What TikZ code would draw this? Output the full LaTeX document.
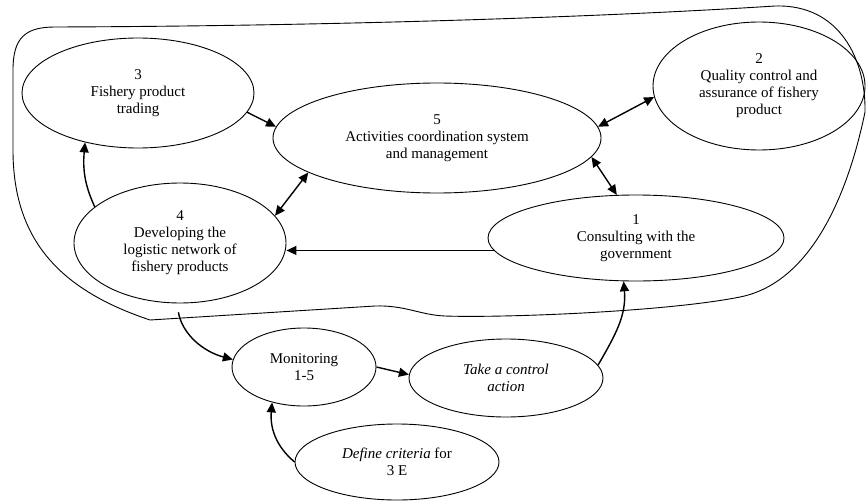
\documentclass[tikz,border=0pt]{standalone}
\usepackage{fontspec}
\setmainfont{Liberation Serif}
\usetikzlibrary{shapes.geometric,arrows.meta}
\begin{document}
\begin{tikzpicture}[x=1pt, y=-1pt,
    proc/.style = {shape=ellipse, draw, line width=0.9pt, align=center,
      inner sep=0pt, font=\fontsize{15}{17}\selectfont},
    arr/.style = {-{Triangle[length=10pt,width=9pt]}, line width=1.4pt},
    dbl/.style = {{Triangle[length=10pt,width=9pt]}-{Triangle[length=10pt,width=9pt]},
      line width=1.4pt}]
  \useasboundingbox (0,0) rectangle (866,500);
  % boundary round 1-5
  \draw[line width=0.9pt] (150,320) .. controls (60,290) and (13,240) .. (13,150)
    -- (13,70) .. controls (13,38) and (25,27) .. (55,27)
    .. controls (350,26) and (620,16) .. (775,6)
    .. controls (840,4) and (866,60) .. (865,112)
    .. controls (850,185) and (815,282) .. (740,297)
    .. controls (665,312) and (500,318) .. (445,316)
    .. controls (420,315) and (405,305) .. (375,306) -- cycle;
  \node[proc, minimum width=232, minimum height=110] (e3) at (138,93)
    {3\\Fishery product\\trading};
  \node[proc, minimum width=328, minimum height=110] (e5) at (437,138)
    {5\\Activities coordination system\\and management};
  \node[proc, minimum width=212, minimum height=128] (e2) at (759,86)
    {2\\Quality control and\\assurance of fishery\\product};
  \node[proc, minimum width=212, minimum height=120] (e4) at (180,243)
    {4\\Developing the\\logistic network of\\fishery products};
  \node[proc, minimum width=296, minimum height=86] (e1) at (636,238)
    {1\\Consulting with the\\government};
  \node[proc, minimum width=144, minimum height=78] (mon) at (304,367)
    {Monitoring\\1-5};
  \node[proc, minimum width=194, minimum height=78] (take) at (506,378)
    {\textit{Take a control}\\\textit{action}};
  \node[proc, minimum width=204, minimum height=76] (def) at (397,462)
    {\textit{Define criteria} for\\3 E};
  % links
  \draw[arr] (e3.-10) -- (e5.176);
  \draw[arr] (e4.157) to[out=115,in=-95] (e3.223);
  \draw[dbl] (e4.16) -- (e5.195);
  \draw[arr] (e1.185) -- (e1.185 -| e4.east);
  \draw[dbl] (e5.4) -- (e2.186);
  \draw[dbl] (e5.-7) -- (e1.114);
  \draw[arr, shorten <=9pt] (e4.-93) to[out=-80,in=165] (mon.174);
  \draw[arr] (mon.0) -- (take.178);
  \draw[arr] (take.8) to[out=60,in=-85] (e1.-106);
  \draw[arr] (def.180) to[out=140,in=-95] (mon.228);
\end{tikzpicture}
\end{document}
